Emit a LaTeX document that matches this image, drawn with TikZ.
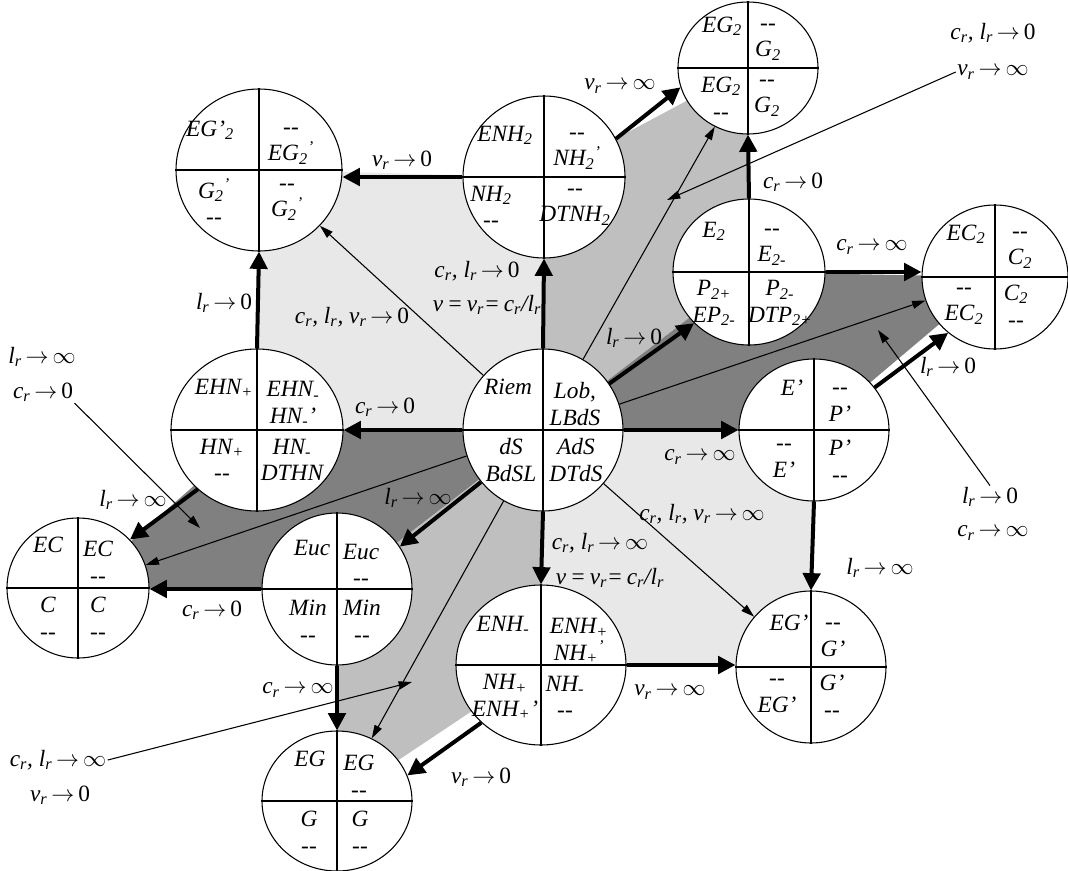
\documentclass[tikz,border=0pt]{standalone}
\usepackage{fontspec}
\setmainfont{Liberation Serif}
\usetikzlibrary{shapes.geometric,arrows.meta,backgrounds}
\newcommand{\cR}{c\textsubscript{r}}
\newcommand{\lR}{l\textsubscript{r}}
\newcommand{\nR}{ν\textsubscript{r}}
\newcommand{\toZ}{\,$\rightarrow$\,{\upshape 0}}
\newcommand{\toI}{\,$\rightarrow$\,$\infty$}
\newcommand{\dsh}{-{}-}
\begin{document}
\begin{tikzpicture}
[
    x=0.75pt, y=-0.75pt,
    geo/.style={ellipse, draw, fill=white, line width=0.8pt, inner sep=0pt},
    qtxt/.style={font=\itshape\fontsize{17.5}{20}\selectfont, align=center, inner sep=0pt},
    lbl/.style={font=\itshape\fontsize{17.5}{20}\selectfont, inner sep=1pt},
    move/.style={line width=3pt, -{Triangle[length=13pt,width=13pt]}},
    pointer/.style={line width=0.8pt, -{Triangle[length=10pt,width=6pt]}},
    lightfam/.style={fill=black!9},
    midfam/.style={fill=black!25},
    darkfam/.style={fill=black!50},
]
\useasboundingbox (0,0) rectangle (1068,871);

% the geometries
\node[geo, minimum width=120pt, minimum height=121.5pt] (riem) at (543,430) {};
\node[geo, minimum width=129pt, minimum height=121.5pt] (ehn) at (257,430) {};
\node[geo, minimum width=124.5pt, minimum height=121.5pt] (egtwop) at (259,170) {};
\node[geo, minimum width=121.5pt, minimum height=121.5pt] (nhtwo) at (544,177) {};
\node[geo, minimum width=105pt, minimum height=99pt] (egtwo) at (748,68) {};
\node[geo, minimum width=114pt, minimum height=109.5pt] (etwo) at (749,272) {};
\node[geo, minimum width=109.5pt, minimum height=108pt] (ectwo) at (995,277) {};
\node[geo, minimum width=112.5pt, minimum height=106.5pt] (eprime) at (814,430) {};
\node[geo, minimum width=112.5pt, minimum height=114pt] (egprime) at (811,667) {};
\node[geo, minimum width=127.5pt, minimum height=120pt] (enh) at (541,665) {};
\node[geo, minimum width=112.5pt, minimum height=114pt] (euc) at (337,589) {};
\node[geo, minimum width=106.5pt, minimum height=105pt] (ec) at (78,588) {};
\node[geo, minimum width=112.5pt, minimum height=105pt] (eg) at (337,801) {};

% families
\begin{scope}[on background layer]
\path[lightfam] (egtwop.center) -- (nhtwo.center) -- (riem.center) -- (ehn.center) -- cycle;
\path[lightfam] (riem.center) -- (eprime.center) -- (egprime.center) -- (enh.center) -- cycle;
\path[midfam] (nhtwo.center) -- (egtwo.center) -- (etwo.center) -- (riem.center) -- cycle;
\path[midfam] (riem.center) -- (euc.center) -- (eg.center) -- (enh.center) -- cycle;
\path[darkfam] (riem.center) -- (etwo.center) -- (ectwo.center) -- (eprime.center) -- cycle;
\path[darkfam] (riem.center) -- (ehn.center) -- (ec.center) -- (euc.center) -- cycle;
\end{scope}

% quadrants
\draw[line width=0.8pt] (riem.north) -- (riem.south) (riem.west) -- (riem.east);
\draw[line width=0.8pt] (ehn.north) -- (ehn.south) (ehn.west) -- (ehn.east);
\draw[line width=0.8pt] (egtwop.north) -- (egtwop.south) (egtwop.west) -- (egtwop.east);
\draw[line width=0.8pt] (nhtwo.north) -- (nhtwo.south) (nhtwo.west) -- (nhtwo.east);
\draw[line width=0.8pt] (egtwo.north) -- (egtwo.south) (egtwo.west) -- (egtwo.east);
\draw[line width=0.8pt] (etwo.north) -- (etwo.south) (etwo.west) -- (etwo.east);
\draw[line width=0.8pt] (ectwo.north) -- (ectwo.south) (ectwo.west) -- (ectwo.east);
\draw[line width=0.8pt] (eprime.north) -- (eprime.south) (eprime.west) -- (eprime.east);
\draw[line width=0.8pt] (egprime.north) -- (egprime.south) (egprime.west) -- (egprime.east);
\draw[line width=0.8pt] (enh.north) -- (enh.south) (enh.west) -- (enh.east);
\draw[line width=0.8pt] (euc.north) -- (euc.south) (euc.west) -- (euc.east);
\draw[line width=0.8pt] (ec.north) -- (ec.south) (ec.west) -- (ec.east);
\draw[line width=0.8pt] (eg.north) -- (eg.south) (eg.west) -- (eg.east);

\node[qtxt] (riem-tl) at (508,404) {Riem\\\strut};
\node[qtxt] (riem-tr) at (575,404) {Lob,\\LBdS};
\node[qtxt] (riem-bl) at (511,460) {dS\\BdSL};
\node[qtxt] (riem-br) at (576,460) {AdS\\DTdS};

\node[qtxt] (ehn-tl) at (224,404) {EHN\textsubscript{+}\\\strut};
\node[qtxt] (ehn-tr) at (293,404) {EHN\textsubscript{-}\\HN\textsubscript{-}’};
\node[qtxt] (ehn-bl) at (222,460) {HN\textsubscript{+}\\\dsh};
\node[qtxt] (ehn-br) at (292,460) {HN\textsubscript{-}\\DTHN};

\node[qtxt] (egtwop-tl) at (210,146) {EG’\textsubscript{2}\\\strut};
\node[qtxt] (egtwop-tr) at (291,146) {\dsh\\EG\textsubscript{2}\textsuperscript{’}};
\node[qtxt] (egtwop-bl) at (214,202) {G\textsubscript{2}\textsuperscript{’}\\\dsh};
\node[qtxt] (egtwop-br) at (287,202) {\dsh\\G\textsubscript{2}\textsuperscript{’}};

\node[qtxt] (nhtwo-tl) at (505,151) {ENH\textsubscript{2}\\\strut};
\node[qtxt] (nhtwo-tr) at (577,151) {\dsh\\NH\textsubscript{2}\textsuperscript{’}};
\node[qtxt] (nhtwo-bl) at (491,207) {NH\textsubscript{2}\\\dsh};
\node[qtxt] (nhtwo-br) at (575,207) {\dsh\\DTNH\textsubscript{2}};

\node[qtxt] (egtwo-tl) at (722,42) {EG\textsubscript{2}\\\strut};
\node[qtxt] (egtwo-tr) at (768,42) {\dsh\\G\textsubscript{2}};
\node[qtxt] (egtwo-bl) at (721,98) {EG\textsubscript{2}\\\dsh};
\node[qtxt] (egtwo-br) at (767,98) {\dsh\\G\textsubscript{2}};

\node[qtxt] (etwo-tl) at (714,247) {E\textsubscript{2}\\\strut};
\node[qtxt] (etwo-tr) at (772,247) {\dsh\\E\textsubscript{2-}};
\node[qtxt] (etwo-bl) at (714,303) {P\textsubscript{2+}\\EP\textsubscript{2-}};
\node[qtxt] (etwo-br) at (780,303) {P\textsubscript{2-}\\DTP\textsubscript{2+}};

\node[qtxt] (ectwo-tl) at (966,250) {EC\textsubscript{2}\\\strut};
\node[qtxt] (ectwo-tr) at (1020,250) {\dsh\\C\textsubscript{2}};
\node[qtxt] (ectwo-bl) at (964,306) {\dsh\\EC\textsubscript{2}};
\node[qtxt] (ectwo-br) at (1016,306) {C\textsubscript{2}\\\dsh};

\node[qtxt] (eprime-tl) at (792,405) {E’\\\strut};
\node[qtxt] (eprime-tr) at (840,405) {\dsh\\P’};
\node[qtxt] (eprime-bl) at (784,461) {\dsh\\E’};
\node[qtxt] (eprime-br) at (840,461) {P’\\\dsh};

\node[qtxt] (egprime-tl) at (789,640) {EG’\\\strut};
\node[qtxt] (egprime-tr) at (833,640) {\dsh\\G’};
\node[qtxt] (egprime-bl) at (777,696) {\dsh\\EG’};
\node[qtxt] (egprime-br) at (832,696) {G’\\\dsh};

\node[qtxt] (enh-tl) at (503,641) {ENH\textsubscript{-}\\\strut};
\node[qtxt] (enh-tr) at (579,641) {ENH\textsubscript{+}\\NH\textsubscript{+}\textsuperscript{’}};
\node[qtxt] (enh-bl) at (505,697) {NH\textsubscript{+}\\ENH\textsubscript{+}’};
\node[qtxt] (enh-br) at (565,697) {NH\textsubscript{-}\\\dsh};

\node[qtxt] (euc-tl) at (312,565) {Euc\\\strut};
\node[qtxt] (euc-tr) at (361,565) {Euc\\\dsh};
\node[qtxt] (euc-bl) at (308,621) {Min\\\dsh};
\node[qtxt] (euc-br) at (362,621) {Min\\\dsh};

\node[qtxt] (ec-tl) at (48,562) {EC\\\strut};
\node[qtxt] (ec-tr) at (98,562) {EC\\\dsh};
\node[qtxt] (ec-bl) at (48,618) {C\\\dsh};
\node[qtxt] (ec-br) at (98,618) {C\\\dsh};

\node[qtxt] (eg-tl) at (310,776) {EG\\\strut};
\node[qtxt] (eg-tr) at (359,776) {EG\\\dsh};
\node[qtxt] (eg-bl) at (309,832) {G\\\dsh};
\node[qtxt] (eg-br) at (360,832) {G\\\dsh};

% contractions
\draw[move] (nhtwo.west) -- (nhtwo.west -| egtwop.east);
\draw[move] (riem.north) -- (nhtwo.south);
\draw[move] (nhtwo.28) -- (egtwo.196);
\draw[move] (etwo.north) -- (egtwo.south);
\draw[move] (riem.35) -- (etwo.223);
\draw[move] (etwo.east) -- (etwo.east -| ectwo.west);
\draw[move] (riem.east) -- (riem.east -| eprime.west);
\draw[move] (eprime.35) -- (ectwo.230);
\draw[move] (eprime.south) -- (egprime.north);
\draw[move] (enh.east) -- (enh.east -| egprime.west);
\draw[move] (riem.south) -- (enh.north);
\draw[move] (enh.224) -- (eg.20);
\draw[move] (euc.south) -- (eg.north);
\draw[move] (euc.west) -- (euc.west -| ec.east);
\draw[move] (riem.220) -- (euc.34);
\draw[move] (ehn.225) -- (ec.43);
\draw[move] (riem.west) -- (riem.west -| ehn.east);
\draw[move] (ehn.north) -- (egtwop.south);

\node[lbl] (nuZa) at (402,160) {\nR\toZ};
\node[lbl] (clZa) at (477,271) {\cR, \lR\toZ};
\node[lbl] (nuEqa) at (487,305) {ν\,=\,\nR=\,\cR/\lR};
\node[lbl] (nuIa) at (620,86) {\nR\toI};
\node[lbl] (cZa) at (793,182) {\cR\toZ};
\node[lbl] (lZa) at (634,338) {\lR\toZ};
\node[lbl] (cIa) at (872,247) {\cR\toI};
\node[lbl] (cIb) at (700,457) {\cR\toI};
\node[lbl] (lZb) at (948,367) {\lR\toZ};
\node[lbl] (lIa) at (880,568) {\lR\toI};
\node[lbl] (nuIb) at (670,692) {\nR\toI};
\node[lbl] (clIa) at (600,543) {\cR, \lR\toI};
\node[lbl] (nuEqb) at (610,578) {ν\,=\,\nR=\,\cR/\lR};
\node[lbl] (nuZb) at (481,777) {\nR\toZ};
\node[lbl] (cIc) at (298,690) {\cR\toI};
\node[lbl] (cZb) at (212,610) {\cR\toZ};
\node[lbl] (lIb) at (418,498) {\lR\toI};
\node[lbl] (lIc) at (133,500) {\lR\toI};
\node[lbl] (cZc) at (385,407) {\cR\toZ};
\node[lbl] (lZc) at (224,303) {\lR\toZ};
\node[lbl] (clnZ) at (352,317) {\cR, \lR, \nR\toZ};
\node[lbl] (clnI) at (702,514) {\cR, \lR, \nR\toI};

% limits that reach a family
\draw[pointer] (riem) -- (egtwop);
\draw[pointer] (riem) -- (egtwo);
\draw[pointer] (riem) -- (ectwo);
\draw[pointer] (riem) -- (ec);
\draw[pointer] (riem) -- (eg);
\draw[pointer] (riem) -- (egprime);

\node[lbl] (famAa) at (993,33) {\cR, \lR\toZ};
\node[lbl] (famAb) at (993,72) {\nR\toI};
\coordinate (famA) at (667,200);
\draw[pointer] (famAb.west) -- (famA);

\node[lbl] (famBa) at (990,497) {\lR\toZ};
\node[lbl] (famBb) at (993,533) {\cR\toI};
\coordinate (famB) at (878,330);
\draw[pointer] (famBa.north) -- (famB);

\node[lbl] (famCa) at (42,357) {\lR\toI};
\node[lbl] (famCb) at (43,392) {\cR\toZ};
\coordinate (famC) at (200,528);
\draw[pointer] (famCb.south east) -- (famC);

\node[lbl] (famDa) at (58,760) {\cR, \lR\toI};
\node[lbl] (famDb) at (60,795) {\nR\toZ};
\coordinate (famD) at (412,682);
\draw[pointer] (famDa.east) -- (famD);
\end{tikzpicture}
\end{document}
